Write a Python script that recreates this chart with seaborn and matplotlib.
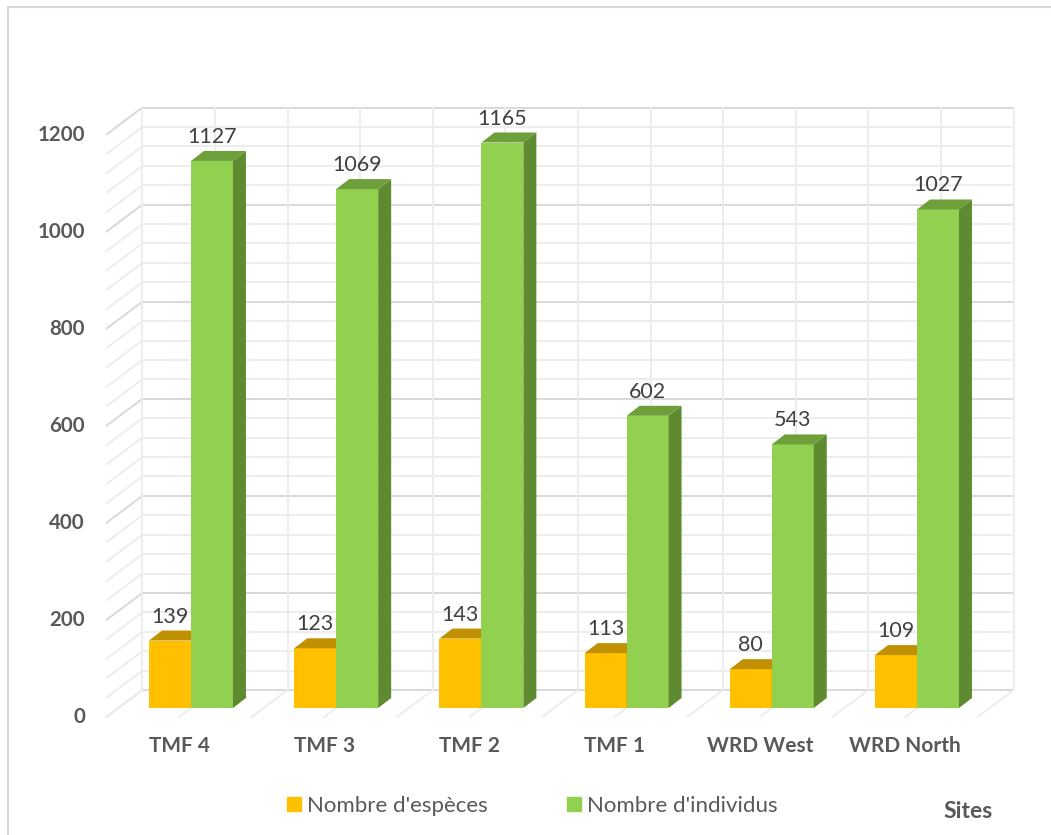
import numpy as np
import pandas as pd
import matplotlib
matplotlib.use("Agg")
import matplotlib.pyplot as plt
from matplotlib.patches import Polygon, Patch
from matplotlib.lines import Line2D
from matplotlib.colors import to_hex
import seaborn as sns

# data
sites = ["TMF 4", "TMF 3", "TMF 2", "TMF 1", "WRD West", "WRD North"]
nb_especes = [139, 123, 143, 113, 80, 109]
nb_individus = [1127, 1069, 1165, 602, 543, 1027]
series = ["Nombre d'espèces", "Nombre d'individus"]
y_ticks = [0, 200, 400, 600, 800, 1000, 1200]
grid_vals = list(range(0, 1201, 40))

front_cols = ["#FFC000", "#92D050"]
top_cols = ["#C09000", "#6E9F3B"]
side_cols = ["#BF9000", "#5E8A30"]
txt_col = "#595959"

# pixel geometry (figure 1051 x 835)
W, H = 1051, 835
PX_CAT = 145.2      # px per category
PX_UNIT = 0.4854    # px per count
X0, Y0 = 191, 708   # first category centre / zero on the bar front plane


def off(dx_px, dy_px):
    # pixel shift -> data shift (dy positive = up)
    return dx_px / PX_CAT, dy_px / PX_UNIT


def px2data(px, py):
    return (px - X0) / PX_CAT, (Y0 - py) / PX_UNIT


WALL = off(24, 18)     # back wall relative to bar front plane
FLOOR = off(-12, -9)   # front edge of floor / side wall
BAR = off(13, 10)      # bar depth

df = pd.DataFrame({
    "site": sites * 2,
    "serie": [series[0]] * len(sites) + [series[1]] * len(sites),
    "value": nb_especes + nb_individus,
})

sns.set_style("white")
plt.rcParams["font.family"] = ["Lato", "DejaVu Sans"]

fig = plt.figure(figsize=(W / 100, H / 100), dpi=100)
ax = fig.add_axes([0, 0, 1, 1])

sns.barplot(data=df, x="site", y="value", hue="serie", order=sites,
            hue_order=series, palette=front_cols, saturation=1,
            width=0.578, linewidth=0, legend=False, ax=ax)

ax.set_xlim(-X0 / PX_CAT, (W - X0) / PX_CAT)
ax.set_ylim((Y0 - H) / PX_UNIT, Y0 / PX_UNIT)
ax.axis("off")

# walls and floor
minor_c, major_c = "#ededed", "#d9d9d9"
left, right = -0.5, len(sites) - 0.5
for v in grid_vals:
    c = major_c if v % 200 == 0 else minor_c
    ax.plot([left + WALL[0], right + WALL[0]], [v + WALL[1]] * 2,
            color=c, lw=1.4, zorder=1, solid_capstyle="butt")
    ax.plot([left + FLOOR[0], left + WALL[0]], [v + FLOOR[1], v + WALL[1]],
            color=c, lw=1.4, zorder=1)
for k in range(2 * len(sites) + 1):
    x = left + 0.5 * k
    ax.plot([x + WALL[0]] * 2, [WALL[1], max(y_ticks) + WALL[1]],
            color=minor_c, lw=1.4, zorder=1)
    ax.plot([x + FLOOR[0], x + WALL[0]], [FLOOR[1], WALL[1]],
            color=minor_c, lw=1.4, zorder=1)

# 3D faces + labels
bars = [p for p in ax.patches]
for p in bars:
    s = 0 if to_hex(p.get_facecolor()).upper() == front_cols[0] else 1
    x, w, h = p.get_x(), p.get_width(), p.get_height()
    z = 3 + s
    p.set_zorder(z)
    top = Polygon([(x, h), (x + w, h), (x + w + BAR[0], h + BAR[1]),
                   (x + BAR[0], h + BAR[1])], closed=True,
                  fc=top_cols[s], ec="none", zorder=z)
    side = Polygon([(x + w, 0), (x + w + BAR[0], BAR[1]),
                    (x + w + BAR[0], h + BAR[1]), (x + w, h)], closed=True,
                   fc=side_cols[s], ec="none", zorder=z)
    ax.add_patch(side)
    ax.add_patch(top)
    ax.text(x + w / 2, h + BAR[1] + 8 / PX_UNIT, f"{int(round(h))}",
            ha="center", va="baseline", fontsize=15.5, color="#404040",
            zorder=6)

# y tick labels (front edge of side wall)
lx, _ = px2data(85, 0)
for v in y_ticks:
    ax.text(lx, v + FLOOR[1], str(v), ha="right", va="center",
            fontsize=14.8, fontweight="bold", color=txt_col)

# category labels
_, cy = px2data(0, 746)
for i, s in enumerate(sites):
    ax.text(i + FLOOR[0], cy, s, ha="center", va="center",
            fontsize=15, fontweight="bold", color=txt_col)

# legend
handles = [Patch(color=c) for c in front_cols]
ax.legend(handles, series, ncol=2, loc="center left",
          bbox_to_anchor=(287 / W, 1 - 806 / H), bbox_transform=fig.transFigure,
          frameon=False, fontsize=16, labelcolor=txt_col,
          handlelength=0.63, handleheight=0.59, handletextpad=0.27,
          columnspacing=3.55, borderpad=0, borderaxespad=0)

sx, sy = px2data(943, 812)
ax.text(sx, sy, "Sites", ha="left", va="center", fontsize=16.5,
        fontweight="bold", color=txt_col)

# chart area border
fig.add_artist(Line2D([8 / W, 8 / W], [0, 1 - 7 / H], color="#d9d9d9",
                      lw=1.5, transform=fig.transFigure))
fig.add_artist(Line2D([8 / W, 1], [1 - 7 / H, 1 - 7 / H], color="#d9d9d9",
                      lw=1.5, transform=fig.transFigure))

fig.savefig("out.png", dpi=100)
